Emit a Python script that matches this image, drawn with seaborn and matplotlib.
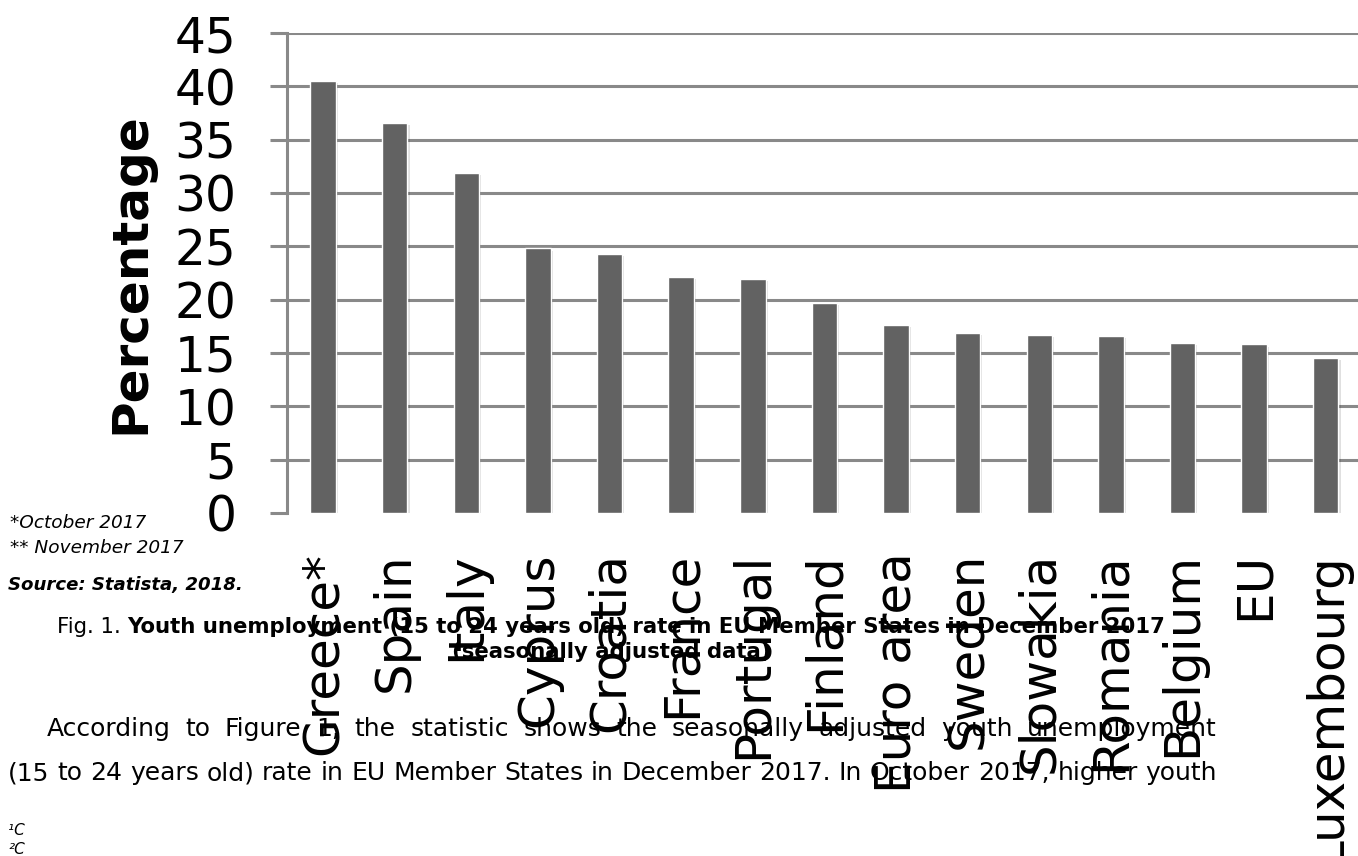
import matplotlib
matplotlib.use('Agg')
import matplotlib.pyplot as plt
import matplotlib.patheffects as pe
import seaborn as sns
import pandas as pd

# chart data
countries = ['Greece*', 'Spain', 'Italy', 'Cyprus', 'Croatia', 'France', 'Portugal',
             'Finland', 'Euro area', 'Sweden', 'Slowakia', 'Romania', 'Belgium', 'EU',
             'Luxembourg']
rates = [40.5, 36.6, 31.9, 24.8, 24.3, 22.1, 21.9, 19.7, 17.6, 16.9, 16.7, 16.6, 15.9,
         15.8, 14.5]
y_ticks = list(range(0, 50, 5))

# surrounding document text
notes = ['*October 2017', '** November 2017']
source = 'Source: Statista, 2018.'
fig_label = 'Fig. 1.'
fig_title = 'Youth unemployment (15 to 24 years old) rate in EU Member States in December 2017'
fig_title2 = '(seasonally adjusted data)'
body1 = 'According to Figure 1, the statistic shows the seasonally adjusted youth unemployment'
body2 = '(15 to 24 years old) rate in EU Member States in December 2017. In October 2017, higher youth'
footnotes = ['\u00b9C', '\u00b2C']

sns.set_style('white')
plt.rcParams['font.family'] = ['DejaVu Sans']
plt.rcParams['text.color'] = 'black'
plt.rcParams['axes.labelcolor'] = 'black'
plt.rcParams['xtick.labelcolor'] = 'black'
plt.rcParams['ytick.labelcolor'] = 'black'

W, H = 1358, 856
GRAY = '#898989'
fig = plt.figure(figsize=(W / 100, H / 100), dpi=100)
ax = fig.add_axes([287.3 / W, 1 - 513 / H, 1 - 287.3 / W, (513 - 33) / H])

df = pd.DataFrame({'country': countries, 'rate': rates})
sns.barplot(data=df, x='country', y='rate', color='#626262', saturation=1,
            width=0.355, edgecolor='white', linewidth=1, ax=ax)
for p in ax.patches:
    p.set_path_effects([pe.SimplePatchShadow(offset=(1.5, -1.5), shadow_rgbFace='k', alpha=0.12),
                        pe.Normal()])

ax.set_xlim(-0.5, 14.45)
ax.set_ylim(0, 45)
ax.set_yticks(y_ticks)
ax.yaxis.grid(True, color=GRAY, lw=2.2)
ax.set_axisbelow(True)
ax.yaxis.get_major_ticks()[0].gridline.set_visible(False)
for s in ['top', 'right', 'bottom']:
    ax.spines[s].set_visible(False)
ax.spines['left'].set_color(GRAY)
ax.spines['left'].set_linewidth(2.2)
ax.tick_params(axis='y', direction='out', length=12, width=2.2, color=GRAY, pad=24.5,
               labelsize=35, left=True, labelcolor='black')
ax.tick_params(axis='x', length=0, pad=28, labelsize=36, labelrotation=90, labelcolor='black')
ax.set_xlabel('')
ax.set_ylabel('Percentage', fontsize=36, fontweight='bold', color='black')
ax.yaxis.set_label_coords(-0.124, 0.5)

renderer = fig.canvas.get_renderer()


def txt(x, yb, s, **kw):
    return fig.text(x / W, 1 - yb / H, s, va='baseline', ha='left', color='black', **kw)


def width(t):
    return t.get_window_extent(renderer).width


def justify(line, x0, x1, yb, **kw):
    words = line.split()
    texts = [txt(0, yb, w, **kw) for w in words]
    ws = [width(t) for t in texts]
    gap = (x1 - x0 - sum(ws)) / (len(words) - 1)
    x = x0
    for t, w in zip(texts, ws):
        t.set_x(x / W)
        x += w + gap


# notes and source
txt(10, 528.3, notes[0], fontsize=13.3, style='italic')
txt(10, 552.7, notes[1], fontsize=13.3, style='italic')
txt(8, 590, source, fontsize=13.1, style='italic', fontweight='bold')

# caption, centred
cap_size = 15.3
t1 = txt(0, 633, fig_label, fontsize=cap_size)
t2 = txt(0, 633, fig_title, fontsize=cap_size, fontweight='bold')
sp = cap_size * 0.318 * 100 / 72
total = width(t1) + sp + width(t2)
x = 611 - total / 2
t1.set_x(x / W)
t2.set_x((x + width(t1) + sp) / W)
t3 = txt(0, 658, fig_title2, fontsize=cap_size, fontweight='bold')
t3.set_x((611 - width(t3) / 2) / W)

# body text, justified
justify(body1, 46.7, 1217, 736, fontsize=18)
justify(body2, 8, 1217, 780, fontsize=18)

txt(8, 835, footnotes[0], fontsize=11, style='italic')
txt(8, 854, footnotes[1], fontsize=11, style='italic')

fig.savefig('out.png', dpi=100)
